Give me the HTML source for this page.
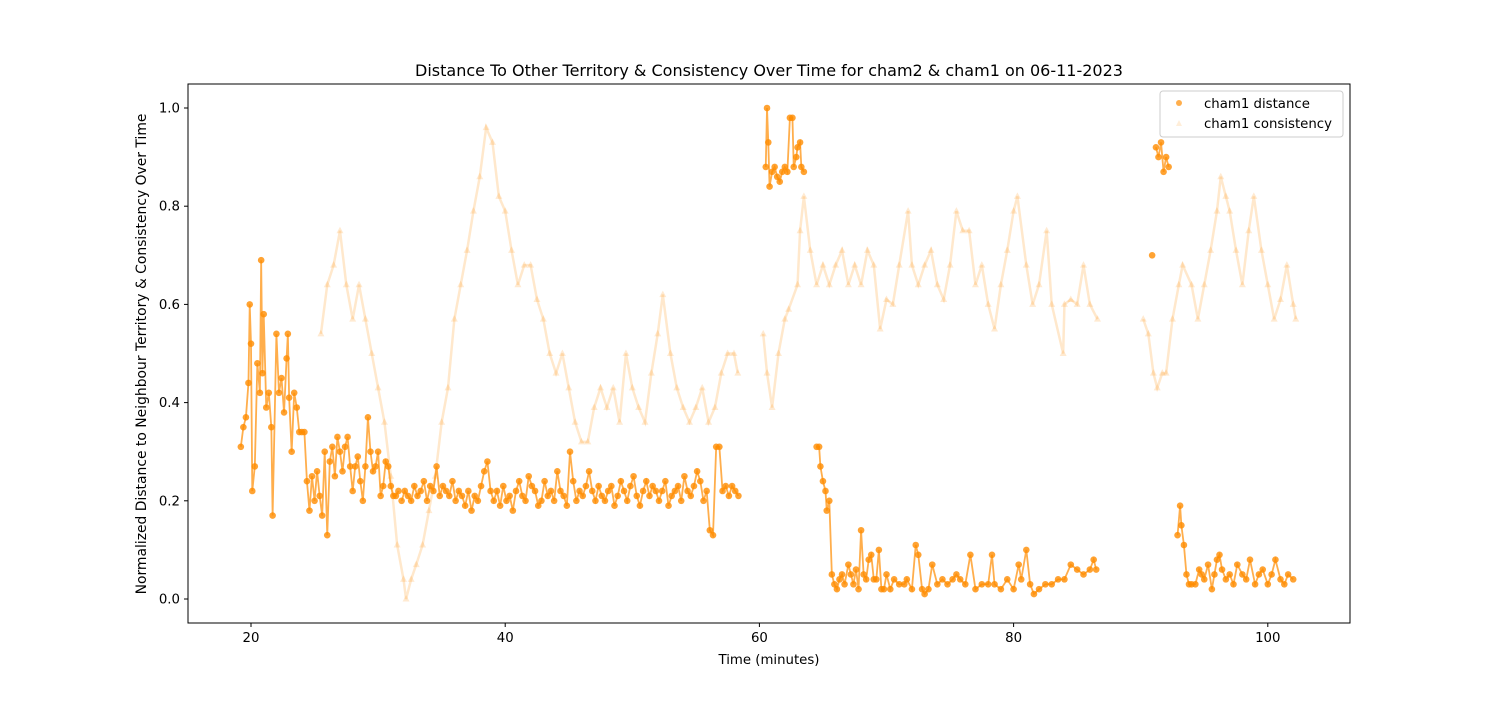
<!DOCTYPE html>
<html><head><meta charset="utf-8">
<style>
body{margin:0;background:#fff;font-family:"Liberation Sans","DejaVu Sans",sans-serif;}
svg text{font-family:"DejaVu Sans","Liberation Sans",sans-serif;fill:#000;}
</style></head>
<body>
<svg id="chart" width="1500" height="700" xmlns="http://www.w3.org/2000/svg">
<rect x="0" y="0" width="1500" height="700" fill="#fff"/>
<text x="769" y="76" font-size="16" text-anchor="middle">Distance To Other Territory &amp; Consistency Over Time for cham2 &amp; cham1 on 06-11-2023</text>
<g id="cons"></g><g id="dist"></g>
<rect x="188" y="84" width="1162" height="539" fill="none" stroke="#000" stroke-width="1"/>
<g id="axes"></g>
<text x="769" y="664" font-size="13.3" text-anchor="middle">Time (minutes)</text>
<text transform="translate(146,354) rotate(-90)" font-size="13.9" text-anchor="middle">Normalized Distance to Neighbour Territory &amp; Consistency Over Time</text>
<g>
<rect x="1160" y="91" width="183" height="46" rx="3" fill="#fff" fill-opacity="0.8" stroke="#ccc"/>
<circle cx="1179" cy="103" r="3" fill="#ff8c00" fill-opacity="0.7"/>
<text x="1204" y="108" font-size="13.3">cham1 distance</text>
<polygon points="1179,120 1182,126 1176,126" fill="#ff8c00" fill-opacity="0.15"/>
<text x="1204" y="128" font-size="13.3">cham1 consistency</text>
</g>
</svg>
<script>
const xTicks=[20,40,60,80,100];
const yTicks=[0.0,0.2,0.4,0.6,0.8,1.0];
// consistency segments
const consT1=[25.5,26,26.5,27,27.5,28,28.5,29,29.5,30,30.5,31,31.5,32,32.2,32.6,33,33.5,34,34.5,35,35.5,36,36.5,37,37.5,38,38.5,39,39.5,40,40.5,41,41.5,42,42.5,43,43.5,44,44.5,45,45.5,46,46.5,47,47.5,48,48.5,49,49.5,50,50.5,51,51.5,52,52.4,53,53.5,54,54.5,55,55.5,56,56.5,57,57.5,58,58.3];
const consV1=[0.54,0.64,0.68,0.75,0.64,0.57,0.64,0.57,0.5,0.43,0.36,0.25,0.11,0.04,0.0,0.04,0.07,0.11,0.18,0.25,0.36,0.43,0.57,0.64,0.71,0.79,0.86,0.96,0.93,0.82,0.79,0.71,0.64,0.68,0.68,0.61,0.57,0.5,0.46,0.5,0.43,0.36,0.32,0.32,0.39,0.43,0.39,0.43,0.36,0.5,0.43,0.39,0.36,0.46,0.54,0.62,0.5,0.43,0.39,0.36,0.39,0.43,0.36,0.39,0.46,0.5,0.5,0.46];
const consT2=[60.3,60.6,61,61.5,62,62.3,63,63.2,63.5,64,64.5,65,65.5,66,66.5,67,67.5,68,68.5,69,69.5,70,70.5,71,71.7,72,72.5,73,73.5,74,74.5,75,75.5,76,76.5,77,77.5,78,78.5,79,79.5,80,80.3,81,81.5,82,82.6,83,83.9,84,84.5,85,85.5,86,86.6];
const consV2=[0.54,0.46,0.39,0.5,0.57,0.59,0.64,0.75,0.82,0.71,0.64,0.68,0.64,0.68,0.71,0.64,0.68,0.64,0.71,0.68,0.55,0.61,0.6,0.68,0.79,0.68,0.64,0.68,0.71,0.64,0.61,0.68,0.79,0.75,0.75,0.64,0.68,0.6,0.55,0.64,0.71,0.79,0.82,0.68,0.6,0.64,0.75,0.6,0.5,0.6,0.61,0.6,0.68,0.6,0.57];
const consT3=[90.2,90.6,91,91.3,91.7,92,92.5,93,93.3,94,94.5,95,95.5,96,96.3,96.7,97,97.5,98,98.5,98.9,99.5,100,100.5,101,101.5,102,102.2];
const consV3=[0.57,0.54,0.46,0.43,0.46,0.46,0.57,0.64,0.68,0.64,0.57,0.64,0.71,0.79,0.86,0.82,0.79,0.71,0.64,0.75,0.82,0.71,0.64,0.57,0.61,0.68,0.6,0.57];
// distance segments
const distT1=[19.2,19.4,19.6,19.8,19.9,20.0,20.1,20.3,20.5,20.7,20.8,20.9,21.0,21.2,21.4,21.6,21.7,22.0,22.2,22.4,22.6,22.8,22.9,23.0,23.2,23.4,23.6,23.8,24.0,24.2,24.4,24.6,24.8,25.0,25.2,25.4,25.6,25.8,26.0,26.2,26.4,26.6,26.8,27.0,27.2,27.4,27.6,27.8,28.0,28.2,28.4,28.6,28.8,29.0,29.2,29.4,29.6,29.8,30.0,30.2,30.4,30.6,30.8,31.0,31.2,31.4,31.6];
const distV1=[0.31,0.35,0.37,0.44,0.6,0.52,0.22,0.27,0.48,0.42,0.69,0.46,0.58,0.39,0.42,0.35,0.17,0.54,0.42,0.45,0.38,0.49,0.54,0.41,0.3,0.42,0.39,0.34,0.34,0.34,0.24,0.18,0.25,0.2,0.26,0.21,0.17,0.3,0.13,0.28,0.31,0.25,0.33,0.3,0.26,0.31,0.33,0.27,0.22,0.27,0.29,0.24,0.2,0.27,0.37,0.3,0.26,0.27,0.3,0.21,0.23,0.28,0.27,0.23,0.21,0.21,0.22];
const distT1b=[];for(let t=31.85;t<=58.5;t+=0.25)distT1b.push(+t.toFixed(2));
const distV1b=[0.2,0.22,0.21,0.2,0.23,0.21,0.22,0.24,0.2,0.23,0.22,0.27,0.21,0.23,0.22,0.21,0.24,0.2,0.22,0.21,0.19,0.22,0.18,0.21,0.2,0.23,0.26,0.28,0.22,0.2,0.22,0.19,0.23,0.2,0.21,0.18,0.22,0.24,0.21,0.2,0.25,0.23,0.22,0.19,0.2,0.24,0.21,0.22,0.2,0.26,0.22,0.21,0.19,0.3,0.24,0.2,0.22,0.21,0.23,0.26,0.22,0.2,0.23,0.21,0.2,0.22,0.23,0.19,0.21,0.24,0.22,0.2,0.23,0.25,0.21,0.19,0.22,0.24,0.21,0.23,0.22,0.2,0.22,0.24,0.19,0.21,0.22,0.23,0.2,0.25,0.22,0.21,0.23,0.26,0.24,0.2,0.22,0.14,0.13,0.31,0.31,0.22,0.23,0.21,0.23,0.22,0.21];
const distT2=[60.5,60.6,60.7,60.8,61,61.2,61.4,61.6,61.8,62,62.2,62.4,62.6,62.7,62.9,63,63.2,63.3,63.5];
const distV2=[0.88,1.0,0.93,0.84,0.87,0.88,0.86,0.85,0.87,0.88,0.87,0.98,0.98,0.88,0.9,0.92,0.93,0.88,0.87];
const distT3=[64.5,64.7,64.8,65,65.2,65.3,65.5,65.7,65.9,66.1,66.3,66.5,66.7,67,67.2,67.4,67.6,67.8,68,68.2,68.4,68.6,68.8,69,69.2,69.4,69.6,69.8,70,70.3,70.6,71,71.4,71.6,72,72.3,72.5,72.8,73,73.3,73.6,74,74.4,74.8,75.2,75.5,75.8,76.2,76.6,77,77.5,78,78.3,78.5,79,79.5,80,80.4,80.6,81,81.3,81.6,82,82.5,83,83.5,84,84.5,85,85.5,86,86.3,86.5];
const distV3=[0.31,0.31,0.27,0.24,0.22,0.18,0.2,0.05,0.03,0.02,0.04,0.05,0.03,0.07,0.05,0.03,0.06,0.02,0.14,0.05,0.04,0.08,0.09,0.04,0.04,0.1,0.02,0.02,0.05,0.02,0.04,0.03,0.03,0.04,0.02,0.11,0.09,0.02,0.01,0.02,0.07,0.03,0.04,0.03,0.04,0.05,0.04,0.03,0.09,0.02,0.03,0.03,0.09,0.03,0.02,0.04,0.02,0.07,0.04,0.1,0.03,0.01,0.02,0.03,0.03,0.04,0.04,0.07,0.06,0.05,0.06,0.08,0.06];
const distT4=[90.9];const distV4=[0.70];
const distT5=[91.2,91.4,91.6,91.8,92.0,92.2];const distV5=[0.92,0.9,0.93,0.87,0.9,0.88];
const distT6=[92.9,93.1,93.2,93.4,93.6,93.8,94,94.3,94.6,94.8,95,95.3,95.6,95.8,96,96.2,96.4,96.7,97,97.3,97.6,98,98.3,98.6,99,99.3,99.6,100,100.3,100.6,101,101.3,101.6,102];
const distV6=[0.13,0.19,0.15,0.11,0.05,0.03,0.03,0.03,0.06,0.05,0.04,0.07,0.02,0.05,0.08,0.09,0.06,0.04,0.05,0.03,0.07,0.05,0.04,0.08,0.03,0.05,0.06,0.03,0.05,0.08,0.04,0.03,0.05,0.04];

const X=t=>251+(t-20)*12.71;
const Y=v=>599-v*491;
const NS='http://www.w3.org/2000/svg';
function mk(tag,attrs,parent){const e=document.createElementNS(NS,tag);for(const k in attrs)e.setAttribute(k,attrs[k]);parent.appendChild(e);return e;}
const axes=document.getElementById('axes');
xTicks.forEach(t=>{
  const l=mk('line',{x1:X(t),x2:X(t),y1:623,y2:627,stroke:'#000'},axes);
  
  
  const tx=mk('text',{x:X(t),y:642,'font-size':13.3,'text-anchor':'middle'},axes);tx.textContent=t;
  
  
});
yTicks.forEach(v=>{
  const l=mk('line',{x1:184,x2:188,y1:Y(v),y2:Y(v),stroke:'#000'},axes);
  
  
  const tx=mk('text',{x:180,y:Y(v)+4.5,'font-size':13.3,'text-anchor':'end'},axes);tx.textContent=v.toFixed(1);
  
  
});
const cg=document.getElementById('cons');
[[consT1,consV1],[consT2,consV2],[consT3,consV3]].forEach(([T,V])=>{
  const p=mk('polyline',{points:T.map((t,i)=>X(t)+','+Y(V[i])).join(' '),fill:'none',stroke:'#ff8c00','stroke-opacity':0.2,'stroke-width':2.5},cg);
  
  
  T.forEach((t,i)=>{const x=X(t),y=Y(V[i]);
    const m=mk('polygon',{points:`${x},${y-4} ${x+3.5},${y+2.5} ${x-3.5},${y+2.5}`,fill:'#ff8c00','fill-opacity':0.18},cg);
    
    
  });
});
const dg=document.getElementById('dist');
[[distT1,distV1],[distT1b,distV1b],[distT2,distV2],[distT3,distV3],[distT4,distV4],[distT5,distV5],[distT6,distV6]].forEach(([T,V])=>{
  const n=Math.min(T.length,V.length);
  const p=mk('polyline',{points:T.slice(0,n).map((t,i)=>X(t)+','+Y(V[i])).join(' '),fill:'none',stroke:'#ff8c00','stroke-opacity':0.7,'stroke-width':1.8},dg);
  
  
  for(let i=0;i<n;i++){
    const c=mk('circle',{cx:X(T[i]),cy:Y(V[i]),r:3.3,fill:'#ff8c00','fill-opacity':0.8},dg);
    
    
  }
});
</script>
</body></html>
